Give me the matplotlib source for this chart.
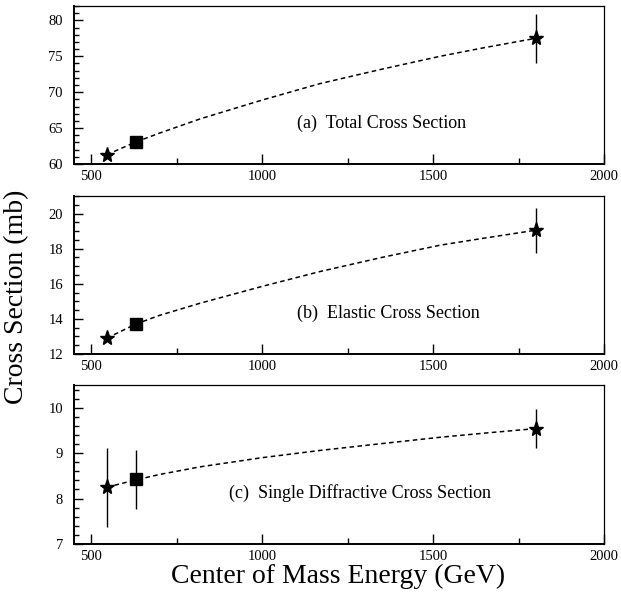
import matplotlib
matplotlib.use("Agg")
import matplotlib.pyplot as plt
from matplotlib.ticker import MultipleLocator, FixedLocator

plt.rcParams['font.family'] = ['Liberation Serif', 'DejaVu Serif']

# ---- data ----
star_energy = [546, 1800]
square_energy = [630]

# (a) total cross section (mb)
tot_star = [61.3, 77.5]
tot_star_err = [0.0, 3.4]
tot_square = [63.1]
tot_curve_e = [546, 630, 700, 820, 1000, 1170, 1350, 1521, 1650, 1800]
tot_curve_v = [61.3, 63.05, 64.3, 66.3, 68.9, 71.2, 73.2, 75.0, 76.2, 77.5]

# (b) elastic cross section (mb)
el_star = [12.9, 19.05]
el_star_err = [0.0, 1.27]
el_square = [13.7]
el_curve_e = [546, 630, 700, 820, 1000, 1170, 1350, 1521, 1650, 1800]
el_curve_v = [12.9, 13.7, 14.2, 14.9, 15.85, 16.7, 17.5, 18.2, 18.6, 19.05]

# (c) single diffractive cross section (mb)
sd_star = [8.25, 9.54]
sd_star_err = [0.87, 0.43]
sd_square = [8.42]
sd_square_err = [0.64]
sd_curve_e = [546, 630, 700, 820, 1000, 1170, 1350, 1521, 1650, 1800]
sd_curve_v = [8.25, 8.41, 8.53, 8.70, 8.90, 9.06, 9.21, 9.35, 9.44, 9.54]

labels = ["(a)  Total Cross Section", "(b)  Elastic Cross Section",
          "(c)  Single Diffractive Cross Section"]
x_major = [500, 1000, 1500, 2000]
x_minor = [750, 1250, 1750]

W, H = 621, 595
fig = plt.figure(figsize=(W / 100, H / 100), dpi=100)

def ax_rect(top_px, bot_px, left_px=74, right_px=604):
    return [left_px / W, 1 - bot_px / H, (right_px - left_px) / W, (bot_px - top_px) / H]

panels = [
    dict(rect=ax_rect(6, 164), ylim=(60, 82), ymaj=5, ymin=1,
         star=tot_star, star_err=tot_star_err, sq=tot_square, sq_err=[0.0],
         ce=tot_curve_e, cv=tot_curve_v, label=labels[0], lx=1103, ly=65.6),
    dict(rect=ax_rect(196, 354), ylim=(12, 21), ymaj=2, ymin=0.5,
         star=el_star, star_err=el_star_err, sq=el_square, sq_err=[0.0],
         ce=el_curve_e, cv=el_curve_v, label=labels[1], lx=1103, ly=14.34),
    dict(rect=ax_rect(385, 544), ylim=(7, 10.5), ymaj=1, ymin=0.2,
         star=sd_star, star_err=sd_star_err, sq=sd_square, sq_err=sd_square_err,
         ce=sd_curve_e, cv=sd_curve_v, label=labels[2], lx=902, ly=8.12),
]

for p in panels:
    ax = fig.add_axes(p['rect'])
    ax.set_xlim(450, 2000)
    ax.set_ylim(*p['ylim'])
    ax.plot(p['ce'], p['cv'], color='black', lw=1.1, linestyle=(0, (3, 2.2)), zorder=2)
    ax.errorbar(star_energy, p['star'], yerr=p['star_err'], fmt='none',
                ecolor='black', elinewidth=1.0, capsize=0, zorder=3)
    ax.errorbar(square_energy, p['sq'], yerr=p['sq_err'], fmt='none',
                ecolor='black', elinewidth=1.0, capsize=0, zorder=3)
    ax.plot(star_energy, p['star'], linestyle='none', marker='*', ms=11,
            color='black', zorder=4)
    ax.plot(square_energy, p['sq'], linestyle='none', marker='s', ms=9,
            color='black', zorder=4)
    ax.text(p['lx'], p['ly'], p['label'], fontsize=13, ha='left', va='center')

    ax.xaxis.set_major_locator(FixedLocator(x_major))
    ax.xaxis.set_minor_locator(FixedLocator(x_minor))
    ax.yaxis.set_major_locator(MultipleLocator(p['ymaj']))
    ax.yaxis.set_minor_locator(MultipleLocator(p['ymin']))
    ax.tick_params(which='both', direction='in', top=False, right=False,
                   labelsize=10.5, width=1.0)
    ax.tick_params(axis='x', which='major', length=7, pad=4)
    ax.tick_params(axis='x', which='minor', length=4)
    ax.tick_params(axis='y', which='major', length=6.5, pad=8)
    ax.tick_params(axis='y', which='minor', length=3.5)
    for s in ['left', 'bottom']:
        ax.spines[s].set_linewidth(1.4)
    for s in ['top', 'right']:
        ax.spines[s].set_linewidth(0.9)

fig.text(17 / W, 1 - 297 / H, "Cross Section (mb)", rotation=90,
         fontsize=20, ha='center', va='center')
fig.text(338 / W, 1 - 583 / H, "Center of Mass Energy (GeV)",
         fontsize=20, ha='center', va='baseline')

fig.savefig("out.png", dpi=100)
